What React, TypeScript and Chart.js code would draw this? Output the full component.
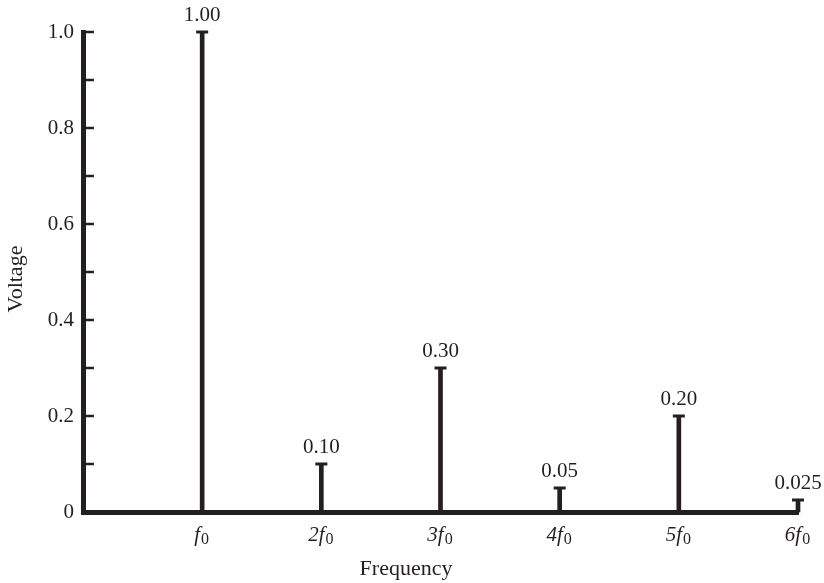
import React, { useEffect, useRef } from "react";
import { Chart, registerables } from "chart.js";

Chart.register(...registerables);

const harmonics = [1, 2, 3, 4, 5, 6];
const voltages = [1.0, 0.1, 0.3, 0.05, 0.2, 0.025];
const valueLabels = ["1.00", "0.10", "0.30", "0.05", "0.20", "0.025"];
const xTickCoefficients = ["", "2", "3", "4", "5", "6"];
const xTickSymbol = "f";
const xTickSubscript = "0";
const yMajorTicks = [0, 0.2, 0.4, 0.6, 0.8, 1.0];
const yMajorTickText = ["0", "0.2", "0.4", "0.6", "0.8", "1.0"];
const yMinorTicks = [0.1, 0.2, 0.3, 0.4, 0.5, 0.6, 0.7, 0.8, 0.9, 1.0];
const xTitle = "Frequency";
const yTitle = "Voltage";

const INK = "#231f20";
const FONT = '"Liberation Serif", "Times New Roman", serif';
const FS = 21;
const TITLE_FS = 22;

const stemPlugin = {
  id: "stemDecor",
  afterDraw(chart: any) {
    const ctx = chart.ctx;
    const xs = chart.scales.x;
    const ys = chart.scales.y;
    const area = chart.chartArea;
    ctx.save();
    // inward y tick marks
    ctx.strokeStyle = INK;
    ctx.lineWidth = 2.5;
    yMinorTicks.forEach((v) => {
      const y = ys.getPixelForValue(v);
      ctx.beginPath();
      ctx.moveTo(area.left, y);
      ctx.lineTo(area.left + 11, y);
      ctx.stroke();
    });
    // value labels
    ctx.fillStyle = INK;
    ctx.font = `${FS}px ${FONT}`;
    ctx.textAlign = "center";
    ctx.textBaseline = "bottom";
    harmonics.forEach((h, i) => {
      const x = xs.getPixelForValue(h);
      const y = ys.getPixelForValue(voltages[i]);
      ctx.fillText(valueLabels[i], x, y - 6);
    });
    // x tick labels with italic f and subscript 0
    ctx.textAlign = "left";
    ctx.textBaseline = "alphabetic";
    harmonics.forEach((h, i) => {
      const x = xs.getPixelForValue(h);
      const main = xTickCoefficients[i] + xTickSymbol;
      ctx.font = `italic ${FS}px ${FONT}`;
      const w1 = ctx.measureText(main).width;
      ctx.font = `16px ${FONT}`;
      const w2 = ctx.measureText(xTickSubscript).width;
      const start = x - (w1 + w2) / 2 - 1;
      const base = area.bottom + 29;
      ctx.font = `italic ${FS}px ${FONT}`;
      ctx.fillText(main, start, base);
      ctx.font = `16px ${FONT}`;
      ctx.fillText(xTickSubscript, start + w1 + 1, base + 3);
    });
    // axis titles
    ctx.font = `${TITLE_FS}px ${FONT}`;
    ctx.textAlign = "center";
    ctx.textBaseline = "middle";
    ctx.fillText(xTitle, chart.width / 2 - 6, area.bottom + 57);
    ctx.translate(16, (area.top + area.bottom) / 2 + 7);
    ctx.rotate(-Math.PI / 2);
    ctx.fillText(yTitle, 0, 0);
    ctx.restore();
  },
};

export default function App() {
  const ref = useRef<HTMLCanvasElement | null>(null);
  useEffect(() => {
    if (!ref.current) return;
    const chart = new Chart(ref.current, {
      type: "bar",
      data: {
        datasets: [
          {
            type: "bar",
            data: harmonics.map((h, i) => ({ x: h, y: voltages[i] })),
            backgroundColor: INK,
            borderWidth: 0,
            barThickness: 4,
            clip: false,
          } as any,
          {
            type: "scatter",
            data: harmonics.map((h, i) => ({ x: h, y: voltages[i] })),
            pointStyle: "line",
            radius: 6,
            borderWidth: 3,
            borderColor: INK,
            backgroundColor: INK,
            clip: false,
          } as any,
        ],
      },
      options: {
        animation: false,
        responsive: true,
        maintainAspectRatio: false,
        layout: { padding: { top: 32, right: 26, left: 0, bottom: 0 } },
        plugins: { legend: { display: false }, tooltip: { enabled: false } },
        scales: {
          x: {
            type: "linear",
            min: 0,
            max: 6,
            offset: false,
            grid: { display: false, drawTicks: false },
            border: { display: true, color: INK, width: 5 },
            ticks: { display: false },
            afterFit: (s: any) => {
              s.height = 71;
            },
          },
          y: {
            type: "linear",
            min: 0,
            max: 1,
            grid: { display: false, drawTicks: false },
            border: { display: true, color: INK, width: 5 },
            ticks: {
              stepSize: 0.1,
              padding: 9,
              color: INK,
              font: { family: FONT, size: FS },
              callback: (v: any) => {
                const idx = yMajorTicks.findIndex((t) => Math.abs(t - Number(v)) < 1e-6);
                return idx >= 0 ? yMajorTickText[idx] : "";
              },
            },
            afterFit: (s: any) => {
              s.width = 83;
            },
          },
        },
      },
      plugins: [stemPlugin],
    });
    return () => chart.destroy();
  }, []);
  return (
    <div
      style={{
        position: "fixed",
        left: 0,
        top: 0,
        width: "100vw",
        height: "100vh",
        background: "#fff",
      }}
    >
      <canvas ref={ref} />
    </div>
  );
}
